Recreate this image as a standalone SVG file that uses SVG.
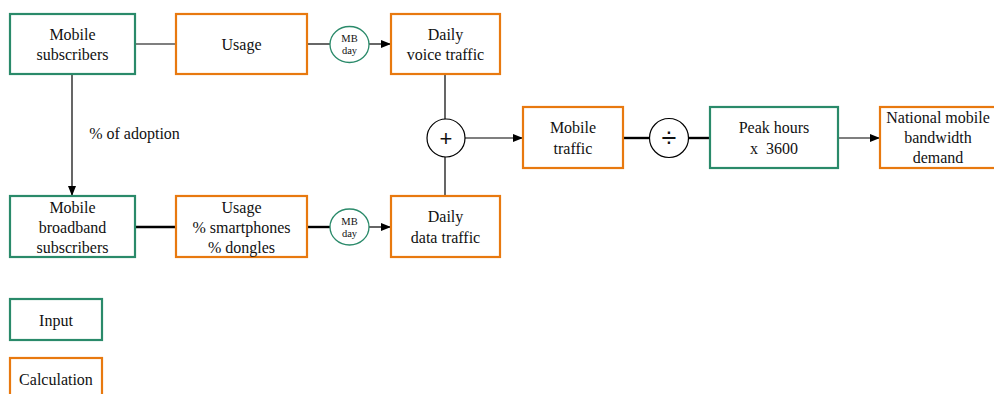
<svg xmlns="http://www.w3.org/2000/svg" width="994" height="394" viewBox="0 0 994 394" font-family="'Liberation Serif', 'Times New Roman', serif">
<defs>
<marker id="ah" markerWidth="10" markerHeight="8" refX="10" refY="4" orient="auto" markerUnits="userSpaceOnUse">
<path d="M0,0 L10,4 L0,8 Z" fill="#000"/>
</marker>
<style>
.inp{fill:#fff;stroke:#2a8a6a;stroke-width:2.2}
.calc{fill:#fff;stroke:#e8790f;stroke-width:2.2}
.unit{fill:#fff;stroke:#2a8a6a;stroke-width:1.3}
.op{fill:#fff;stroke:#000;stroke-width:1.2}
.t{font-family:'Liberation Serif',serif;font-size:16px;fill:#111;text-anchor:middle}
.s{font-family:'Liberation Serif',serif;font-size:10.5px;fill:#111;text-anchor:middle}
.o{font-family:'Liberation Sans',sans-serif;font-size:22px;fill:#111;text-anchor:middle}
.c{stroke:#000;stroke-width:1.2;fill:none}
.k{stroke:#000;stroke-width:2.4;fill:none}
</style>
</defs>
<rect width="994" height="394" fill="#fff"/>
<g id="connectors">
<line class="c" x1="135" y1="44" x2="176" y2="44"/>
<line class="c" x1="307" y1="44" x2="330" y2="44"/>
<line class="c" x1="369" y1="44" x2="391" y2="44" marker-end="url(#ah)"/>
<line class="c" x1="72" y1="74" x2="72" y2="196" marker-end="url(#ah)"/>
<line class="k" x1="135" y1="227" x2="176" y2="227"/>
<line class="k" x1="307" y1="227" x2="330" y2="227"/>
<line class="c" x1="369" y1="227" x2="391" y2="227" marker-end="url(#ah)"/>
<line class="c" x1="445" y1="74" x2="445" y2="119"/>
<line class="c" x1="445" y1="157" x2="445" y2="196"/>
<line class="c" x1="465" y1="138" x2="523" y2="138" marker-end="url(#ah)"/>
<line class="k" x1="623" y1="138" x2="649" y2="138"/>
<line class="k" x1="689" y1="138" x2="710" y2="138"/>
<line class="c" x1="838" y1="138" x2="880" y2="138" marker-end="url(#ah)"/>
<text class="t" x="134.5" y="139">% of adoption</text>
</g>
<g id="mobile-subscribers">
<rect class="inp" x="10" y="14" width="125" height="60"/>
<text class="t" x="72.5" y="40">Mobile</text>
<text class="t" x="72.5" y="60">subscribers</text>
</g>
<g id="usage">
<rect class="calc" x="176" y="14" width="131" height="60"/>
<text class="t" x="241.5" y="50">Usage</text>
</g>
<g id="mbday1">
<ellipse class="unit" cx="349.5" cy="44.5" rx="19.5" ry="18"/>
<text class="s" x="349.5" y="42">MB</text>
<text class="s" x="349.5" y="54">day</text>
</g>
<g id="daily-voice">
<rect class="calc" x="391" y="14" width="109" height="60"/>
<text class="t" x="445.5" y="40">Daily</text>
<text class="t" x="445.5" y="60">voice traffic</text>
</g>
<g id="mobile-broadband">
<rect class="inp" x="10" y="196" width="125" height="61"/>
<text class="t" x="72.5" y="213">Mobile</text>
<text class="t" x="72.5" y="233">broadband</text>
<text class="t" x="72.5" y="253">subscribers</text>
</g>
<g id="usage2">
<rect class="calc" x="176" y="196" width="131" height="61"/>
<text class="t" x="241.5" y="213">Usage</text>
<text class="t" x="241.5" y="233">% smartphones</text>
<text class="t" x="241.5" y="253">% dongles</text>
</g>
<g id="mbday2">
<ellipse class="unit" cx="349.5" cy="227" rx="19.5" ry="18"/>
<text class="s" x="349.5" y="224.5">MB</text>
<text class="s" x="349.5" y="236.5">day</text>
</g>
<g id="daily-data">
<rect class="calc" x="391" y="196" width="109" height="61"/>
<text class="t" x="445.5" y="222">Daily</text>
<text class="t" x="445.5" y="243">data traffic</text>
</g>
<g id="plus">
<circle class="op" cx="446" cy="138" r="19"/>
<text class="o" x="446" y="146">+</text>
</g>
<g id="mobile-traffic">
<rect class="calc" x="523" y="107" width="100" height="61"/>
<text class="t" x="573" y="133">Mobile</text>
<text class="t" x="573" y="154">traffic</text>
</g>
<g id="divide">
<circle class="op" cx="669" cy="138" r="19.5"/>
<text class="o" x="669" y="147" style="font-size:27px">÷</text>
</g>
<g id="peak-hours">
<rect class="inp" x="710" y="107" width="128" height="61"/>
<text class="t" x="774" y="133">Peak hours</text>
<text class="t" x="774" y="154" xml:space="preserve">x  3600</text>
</g>
<g id="national">
<rect class="calc" x="880" y="107" width="122" height="61"/>
<text class="t" x="938" y="123">National mobile</text>
<text class="t" x="938" y="143">bandwidth</text>
<text class="t" x="938" y="163">demand</text>
</g>
<g id="legend-input">
<rect class="inp" x="10" y="299" width="92" height="41"/>
<text class="t" x="56" y="326">Input</text>
</g>
<g id="legend-calc">
<rect class="calc" x="10" y="358" width="92" height="41"/>
<text class="t" x="56" y="385">Calculation</text>
</g>
</svg>
